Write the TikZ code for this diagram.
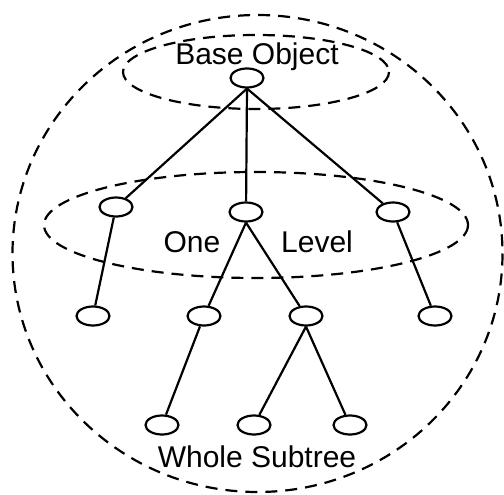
\documentclass[tikz,border=0pt]{standalone}
\usepackage{fontspec}
\setmainfont{Liberation Sans}
\usetikzlibrary{shapes.geometric}
\begin{document}
\begin{tikzpicture}[x=1pt,y=-1pt,
  treenode/.style={draw, line width=2.2pt, ellipse, minimum width=33pt, minimum height=19pt, inner sep=0pt, fill=white},
  edge/.style={line width=2.2pt},
  region/.style={line width=2.2pt, dash pattern=on 12pt off 8pt},
  lbl/.style={font=\fontsize{30}{36}\selectfont, inner sep=0pt}]
\useasboundingbox (0,0) rectangle (504,495);
% regions
\draw[region] (257.5,253.5) ellipse [x radius=245, y radius=238.5];
\draw[region] (256,72) ellipse [x radius=133, y radius=37];
\draw[region] (256,225) ellipse [x radius=212, y radius=53];
% nodes
\node[treenode] (root) at (247,78) {};
\node[treenode] (l1a) at (116,207) {};
\node[treenode] (l1b) at (246,212) {};
\node[treenode] (l1c) at (393,212) {};
\node[treenode] (l2a) at (93,316) {};
\node[treenode] (l2b) at (204,316) {};
\node[treenode] (l2c) at (306,316) {};
\node[treenode] (l2d) at (435,316) {};
\node[treenode] (l3a) at (162,425) {};
\node[treenode] (l3b) at (254,425) {};
\node[treenode] (l3c) at (350,425) {};
% edges
\draw[edge] (root.south) -- (l1a);
\draw[edge] (root.south) -- (l1b);
\draw[edge] (root.south) -- (l1c);
\draw[edge] (l1a) -- (l2a);
\draw[edge] (l1b.south) -- (l2b);
\draw[edge] (l1b.south) -- (l2c);
\draw[edge] (l1c) -- (l2d);
\draw[edge] (l2b) -- (l3a);
\draw[edge] (l2c.south) -- (l3b);
\draw[edge] (l2c.south) -- (l3c);
% labels
\node[lbl] (tbase) at (257,57) {Base Object};
\node[lbl] (tone) at (192,242) {One};
\node[lbl] (tlevel) at (317,242) {Level};
\node[lbl] (twhole) at (257,457) {Whole Subtree};
\end{tikzpicture}
\end{document}
